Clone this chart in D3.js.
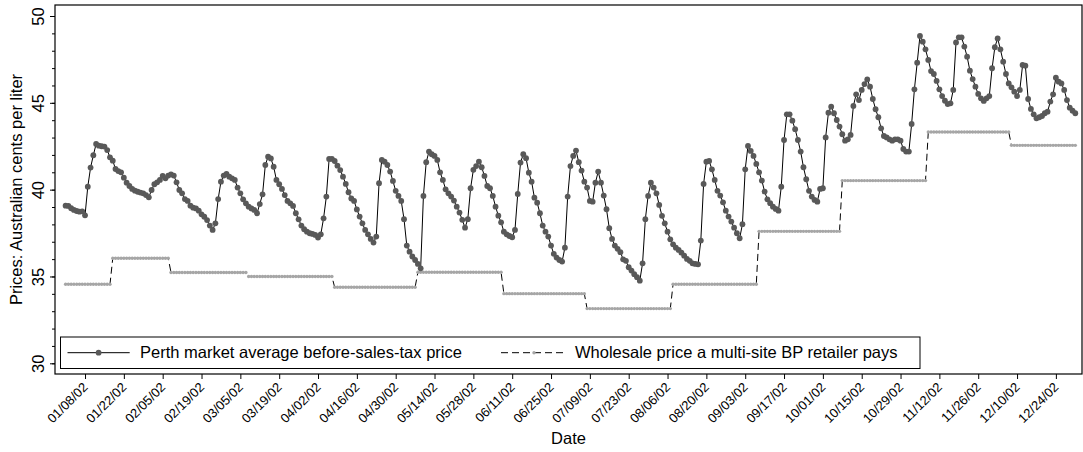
<!DOCTYPE html>
<html>
<head>
<meta charset="utf-8">
<script src="https://cdn.jsdelivr.net/npm/d3@7"></script>
<style>
  body { margin: 0; background: #fff; }
  text { font-family: "Liberation Sans", Arial, Helvetica, sans-serif; fill: #000; }
</style>
</head>
<body>
<svg id="chart" width="1083" height="452"></svg>
<script>
// Daily Perth retail price (cents per litre, before sales tax), 1 Jan 2002 onward
const startDate = "2002-01-01";
const retailPrice = [
  39.08, 39.06, 38.93, 38.83, 38.77, 38.73, 38.75, 38.52, 40.17, 41.27,
  41.98, 42.63, 42.53, 42.50, 42.48, 42.28, 41.86, 41.67, 41.19, 41.07,
  41.00, 40.69, 40.40, 40.21, 40.04, 39.94, 39.88, 39.83, 39.79, 39.69,
  39.56, 39.98, 40.31, 40.42, 40.56, 40.79, 40.65, 40.81, 40.88, 40.81,
  40.42, 39.98, 39.79, 39.46, 39.35, 39.08, 38.96, 38.92, 38.79, 38.58,
  38.44, 38.25, 37.93, 37.68, 38.06, 39.46, 40.46, 40.81, 40.90, 40.75,
  40.65, 40.56, 40.12, 39.79, 39.44, 39.21, 39.02, 38.92, 38.83, 38.64,
  39.17, 39.73, 41.42, 41.90, 41.80, 41.32, 40.56, 40.31, 40.04, 39.69,
  39.35, 39.21, 39.06, 38.64, 38.29, 37.93, 37.72, 37.58, 37.49, 37.45,
  37.39, 37.24, 37.43, 38.35, 39.60, 41.77, 41.77, 41.65, 41.38, 41.13,
  40.75, 40.33, 39.85, 39.49, 39.35, 38.86, 38.45, 38.06, 37.68, 37.43,
  37.16, 36.95, 37.30, 40.37, 41.71, 41.61, 41.42, 41.04, 40.50, 39.93,
  39.64, 39.35, 38.30, 36.78, 36.43, 36.15, 35.95, 35.72, 35.47, 39.64,
  41.58, 42.19, 42.04, 41.94, 41.71, 41.00, 40.56, 40.02, 39.79, 39.60,
  39.37, 39.02, 38.68, 38.26, 37.81, 38.30, 40.08, 41.14, 41.36, 41.61,
  41.29, 40.79, 40.21, 40.08, 39.64, 39.02, 38.50, 38.12, 37.58, 37.43,
  37.33, 37.26, 37.68, 39.75, 41.56, 42.04, 41.81, 40.98, 40.46, 39.54,
  39.25, 38.64, 37.93, 37.58, 37.30, 36.78, 36.30, 36.09, 35.95, 35.86,
  36.66, 39.60, 41.36, 41.94, 42.25, 41.58, 41.10, 40.46, 40.12, 39.35,
  39.31, 40.40, 41.04, 40.40, 39.66, 38.87, 37.78, 37.16, 36.78, 36.59,
  36.40, 35.99, 35.90, 35.53, 35.34, 35.13, 34.96, 34.76, 35.76, 38.30,
  39.64, 40.40, 40.12, 39.79, 39.12, 38.49, 38.06, 37.58, 37.14, 36.85,
  36.66, 36.53, 36.37, 36.20, 36.01, 35.90, 35.76, 35.72, 35.70, 37.07,
  40.33, 41.61, 41.65, 41.17, 40.56, 39.93, 39.66, 39.27, 38.79, 38.45,
  38.16, 37.81, 37.49, 37.20, 38.01, 41.17, 42.52, 42.23, 41.94, 41.48,
  41.00, 40.52, 39.89, 39.44, 39.22, 39.02, 38.89, 38.79, 40.17, 42.86,
  44.34, 44.34, 43.97, 43.48, 42.86, 42.19, 41.29, 40.60, 39.93, 39.60,
  39.41, 39.31, 40.04, 40.08, 43.01, 44.43, 44.78, 44.40, 44.01, 43.63,
  43.19, 42.82, 42.90, 43.15, 44.82, 45.49, 45.16, 45.74, 46.08, 46.35,
  45.93, 45.22, 44.63, 44.17, 43.53, 43.09, 43.01, 42.90, 42.82, 42.90,
  42.90, 42.82, 42.34, 42.19, 42.19, 43.78, 45.78, 47.31, 48.85, 48.52,
  48.08, 47.47, 46.83, 46.66, 46.26, 45.78, 45.39, 45.12, 44.93, 44.97,
  45.74, 48.48, 48.77, 48.77, 48.24, 47.66, 46.85, 46.37, 45.93, 45.51,
  45.26, 45.11, 45.26, 45.39, 46.99, 48.20, 48.71, 48.08, 47.37, 46.66,
  46.12, 45.89, 45.64, 45.39, 45.74, 47.18, 47.14, 45.22, 44.65, 44.34,
  44.11, 44.17, 44.24, 44.40, 44.49, 45.07, 45.49, 46.45, 46.22, 46.12,
  45.74, 45.16, 44.72, 44.55, 44.40
];

// Wholesale price changes: date each level takes effect and its price
const wholesaleFrom = [
  "2002-01-01", "2002-01-18", "2002-02-08", "2002-03-08", "2002-04-08",
  "2002-05-08", "2002-06-08", "2002-07-08", "2002-08-08", "2002-09-08",
  "2002-10-08", "2002-11-08", "2002-12-08"
];
const wholesalePrice = [
  34.55, 36.05, 35.23, 35.00, 34.38,
  35.24, 34.01, 33.15, 34.55, 37.60,
  40.52, 43.32, 42.55
];

const xTickLabels = [
  "01/08/02", "01/22/02", "02/05/02", "02/19/02", "03/05/02", "03/19/02",
  "04/02/02", "04/16/02", "04/30/02", "05/14/02", "05/28/02", "06/11/02",
  "06/25/02", "07/09/02", "07/23/02", "08/06/02", "08/20/02", "09/03/02",
  "09/17/02", "10/01/02", "10/15/02", "10/29/02", "11/12/02", "11/26/02",
  "12/10/02", "12/24/02"
];
const yTickValues = [30, 35, 40, 45, 50];

const legendLabels = [
  "Perth market average before-sales-tax price",
  "Wholesale price a multi-site BP retailer pays"
];

// ---- build daily series ----
const parseIso = d3.utcParse("%Y-%m-%d");
const parseTick = d3.utcParse("%m/%d/%y");
const fmtTick = d3.utcFormat("%m/%d/%y");
const day0 = parseIso(startDate);

const retail = retailPrice.map((v, i) => ({ date: d3.utcDay.offset(day0, i), value: v }));

const wholesaleBreaks = wholesaleFrom.map(parseIso);
const wholesale = retail.map(r => {
  const k = d3.bisectRight(wholesaleBreaks, r.date) - 1;
  return { date: r.date, value: wholesalePrice[k] };
});

// ---- layout ----
const svg = d3.select("#chart");
const plot = { left: 55, right: 1082, top: 5, bottom: 374 };

const x = d3.scaleUtc()
  .domain([day0, d3.utcDay.offset(day0, retailPrice.length - 1)])
  .range([65.6, 1075.3]);
const y = d3.scaleLinear().domain([30, 50]).range([363.3, 16]);

// plot frame
svg.append("rect")
  .attr("x", plot.left).attr("y", plot.top)
  .attr("width", plot.right - plot.left).attr("height", plot.bottom - plot.top)
  .attr("fill", "none").attr("stroke", "#000").attr("stroke-width", 1.2);

// y axis: major ticks with vertical labels, minor ticks every unit
const yAxis = svg.append("g")
  .attr("transform", `translate(${plot.left},0)`)
  .call(d3.axisLeft(y).tickValues(yTickValues).tickSize(5).tickSizeOuter(0));
yAxis.select(".domain").remove();
yAxis.selectAll("line").attr("stroke", "#000");
yAxis.selectAll("text")
  .attr("x", 0).attr("dy", 0)
  .attr("text-anchor", "middle")
  .attr("font-size", 16.5)
  .attr("transform", "translate(-11,0) rotate(-90)");

const yMinor = svg.append("g")
  .attr("transform", `translate(${plot.left},0)`)
  .call(d3.axisLeft(y).ticks(20).tickSize(3).tickFormat(""));
yMinor.select(".domain").remove();
yMinor.selectAll("line").attr("stroke", "#000");

// x axis: biweekly dates, slanted labels
const xAxis = svg.append("g")
  .attr("transform", `translate(0,${plot.bottom})`)
  .call(d3.axisBottom(x).tickValues(xTickLabels.map(parseTick))
    .tickFormat(fmtTick).tickSize(5).tickSizeOuter(0));
xAxis.select(".domain").remove();
xAxis.selectAll("line").attr("stroke", "#000");
xAxis.selectAll("text")
  .attr("y", 0).attr("dy", 0)
  .attr("text-anchor", "end")
  .attr("font-size", 13)
  .attr("transform", "translate(3,14) rotate(-45)");

// axis titles
svg.append("text")
  .attr("transform", `translate(22,${(plot.top + plot.bottom) / 2}) rotate(-90)`)
  .attr("text-anchor", "middle").attr("font-size", 16.5)
  .text("Prices: Australian cents per liter");
svg.append("text")
  .attr("x", (plot.left + plot.right) / 2).attr("y", 444)
  .attr("text-anchor", "middle").attr("font-size", 16.5)
  .text("Date");

// wholesale series: dashed connector under small grey markers
const lineGen = d3.line().x(d => x(d.date)).y(d => y(d.value));
svg.append("path").datum(wholesale)
  .attr("d", lineGen)
  .attr("fill", "none").attr("stroke", "#000").attr("stroke-width", 1)
  .attr("stroke-dasharray", "7,4");
svg.append("g").selectAll("circle").data(wholesale).join("circle")
  .attr("cx", d => x(d.date)).attr("cy", d => y(d.value))
  .attr("r", 1.7).attr("fill", "#a6a6a6");

// retail series: solid line with dark markers
svg.append("path").datum(retail)
  .attr("d", lineGen)
  .attr("fill", "none").attr("stroke", "#000").attr("stroke-width", 1);
svg.append("g").selectAll("circle").data(retail).join("circle")
  .attr("cx", d => x(d.date)).attr("cy", d => y(d.value))
  .attr("r", 2.9).attr("fill", "#595959");

// legend
const lg = svg.append("g");
lg.append("rect")
  .attr("x", 60.5).attr("y", 337).attr("width", 859.5).attr("height", 31.5)
  .attr("fill", "#fff").attr("stroke", "#000").attr("stroke-width", 1);
const ly = 352.7;
lg.append("line").attr("x1", 67.5).attr("x2", 129.7).attr("y1", ly).attr("y2", ly)
  .attr("stroke", "#000").attr("stroke-width", 1);
lg.append("circle").attr("cx", 98.6).attr("cy", ly).attr("r", 2.9).attr("fill", "#595959");
lg.append("text").attr("x", 140).attr("y", ly).attr("dy", "0.35em")
  .attr("font-size", 16.5).text(legendLabels[0]);
lg.append("line").attr("x1", 501).attr("x2", 567).attr("y1", ly).attr("y2", ly)
  .attr("stroke", "#000").attr("stroke-width", 1).attr("stroke-dasharray", "7,4");
lg.append("circle").attr("cx", 534).attr("cy", ly).attr("r", 1.7).attr("fill", "#a6a6a6");
lg.append("text").attr("x", 575).attr("y", ly).attr("dy", "0.35em")
  .attr("font-size", 16.5).text(legendLabels[1]);
</script>
</body>
</html>
